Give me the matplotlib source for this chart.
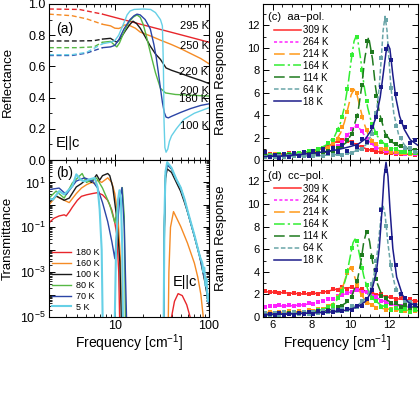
import math
import matplotlib
matplotlib.use("Agg")
import matplotlib.pyplot as plt
from matplotlib.ticker import FixedLocator, NullFormatter, MultipleLocator, FuncFormatter, LogLocator

plt.rcParams['font.family'] = ['Liberation Sans', 'DejaVu Sans']
plt.rcParams['mathtext.fontset'] = 'custom'
plt.rcParams['mathtext.rm'] = 'Liberation Sans'
plt.rcParams['mathtext.default'] = 'regular'
plt.rcParams['axes.linewidth'] = 0.8


### (a) REFLECTANCE, E||c  -- dashed = extrapolated low-frequency part
r295_dash_f = [2.0, 4.2, 7.4]
r295_dash = [0.968, 0.965, 0.935]
r295_f = [7.4, 10, 20, 50, 100]
r295 = [0.935, 0.914, 0.866, 0.803, 0.755]

r250_dash_f = [2.0, 3.5, 5.0, 7.4]
r250_dash = [0.935, 0.925, 0.905, 0.87]
r250_f = [7.4, 9, 10, 11, 11.8, 12.5, 14, 16.5, 18.6, 24, 30, 40, 50, 65, 82, 100]
r250 = [0.87, 0.86, 0.845, 0.843, 0.85, 0.865, 0.865, 0.845, 0.82, 0.795, 0.77, 0.74, 0.714, 0.68, 0.65, 0.617]

r220_dash_f = [2.0, 4.0, 6.0, 7.4]
r220_dash = [0.763, 0.763, 0.765, 0.775]
r220_f = [7.4, 9.0, 9.8, 10.5, 11.5, 13, 14.5, 15.6, 17, 18.6, 21, 23.8, 27, 30.5, 35, 40, 50, 65, 82, 100]
r220 = [0.775, 0.78, 0.765, 0.755, 0.78, 0.83, 0.87, 0.89, 0.875, 0.845, 0.79, 0.73, 0.68, 0.645, 0.59, 0.575, 0.555, 0.53, 0.51, 0.49]

r200_dash_f = [2.0, 4.0, 6.0, 7.4]
r200_dash = [0.72, 0.72, 0.725, 0.755]
r200_f = [7.4, 9.0, 9.8, 10.5, 11.2, 12.5, 14, 15.6, 17.2, 18.6, 20, 21.5, 23.8, 27, 30.5, 34.5, 44, 64, 100]
r200 = [0.755, 0.76, 0.74, 0.725, 0.75, 0.82, 0.88, 0.915, 0.93, 0.915, 0.87, 0.80, 0.69, 0.56, 0.46, 0.43, 0.42, 0.415, 0.41]

r180_dash_f = [2.0, 3.5, 5.0, 7.4]
r180_dash = [0.67, 0.67, 0.685, 0.72]
r180_f = [7.4, 9.0, 10, 11, 12.5, 14.5, 16, 17.2, 18.6, 21, 23.8, 26, 27.5, 29, 30.5, 32, 33.5, 35, 37, 40, 50, 64, 82, 100]
r180 = [0.72, 0.725, 0.735, 0.77, 0.84, 0.9, 0.925, 0.935, 0.93, 0.9, 0.84, 0.74, 0.66, 0.56, 0.46, 0.37, 0.305, 0.275, 0.27, 0.28, 0.305, 0.33, 0.35, 0.36]

r100_dash_f = [2.0, 3.5, 5.0, 7.4]
r100_dash = [0.675, 0.675, 0.69, 0.745]
r100_f = [7.4, 9.0, 10, 11, 12.5, 13.5, 14.5, 16, 20, 24, 27, 30.5, 32, 32.8, 33.3, 34, 35, 36.5, 38, 40, 45, 54, 70, 100]
r100 = [0.745, 0.755, 0.765, 0.80, 0.88, 0.93, 0.955, 0.965, 0.968, 0.965, 0.945, 0.90, 0.86, 0.6, 0.25, 0.08, 0.05, 0.07, 0.12, 0.155, 0.2, 0.26, 0.3, 0.335]

refl_labels = ['295 K', '250 K', '220 K', '200 K', '180 K', '100 K']
refl_label_y = [0.858, 0.729, 0.561, 0.445, 0.39, 0.219]


### (b) TRANSMITTANCE, E||c
t180_f = [2.0, 2.25, 2.56, 2.9, 3.05, 3.3, 3.54, 4.0, 4.42, 5.0, 5.8, 6.56, 7.4, 8.4, 9.28, 10.0, 10.5, 11.0, 11.3,
          38.5, 40, 43, 47, 52, 58, 64, 67]
t180 = [0.158, 0.25, 0.32, 0.36, 0.32, 0.5, 0.79, 1.6, 2.4, 2.8, 3.2, 3.5, 2.8, 1.6, 0.6, 0.16, 0.046, 1e-3, 3e-6,
        1e-7, 1e-5, 5e-5, 1.1e-4, 9e-5, 3.5e-5, 8e-6, 1e-7]

t160_f = [2.0, 2.38, 2.9, 3.28, 3.9, 4.42, 5.0, 5.66, 6.09, 6.56, 7.25, 8.41, 9.28, 10.0, 10.8, 11.5, 12.0,
          36.5, 37.5, 39, 42, 50, 59, 70, 76, 82, 88, 90]
t160 = [1.0, 2.4, 1.6, 1.26, 3.2, 5.6, 7.9, 10, 8.9, 12.6, 10, 16, 10, 3.2, 0.3, 3e-3, 3e-6,
        1e-7, 1e-3, 0.1, 0.5, 0.11, 0.02, 2.5e-3, 6e-4, 1e-4, 6e-6, 1e-7]

t100_f = [2.0, 2.38, 2.9, 3.28, 3.9, 4.42, 5.0, 5.66, 6.4, 6.9, 7.4, 8.4, 8.84, 9.5, 10.5, 11.3, 11.9,
          32.8, 33.6, 34.5, 36, 40, 45, 50, 55, 60, 70, 80, 90, 100]
t100 = [1.26, 2.5, 1.6, 2.0, 6.3, 8.9, 13.8, 10, 22, 12.6, 20, 25, 20, 6.3, 0.25, 3e-3, 1e-6,
        1e-7, 0.1, 15, 40, 28, 10, 4, 1.26, 0.4, 0.04, 4.5e-3, 4e-4, 3.2e-5]

t80_f = [2.0, 2.38, 2.9, 3.54, 4.5, 5.0, 5.66, 6.4, 7.4, 8.84, 10.0, 11.0, 12.0, 12.6, 13.0,
         32.8, 33.6, 34.5, 36, 40, 45, 50, 55, 60, 70, 80, 90, 100]
t80 = [2.0, 4.1, 2.0, 9.5, 25, 10, 12.6, 15.8, 5.6, 1.0, 0.16, 1.6, 5.9, 0.3, 2e-6,
       1e-7, 0.1, 20, 63, 40, 13, 5.6, 1.6, 0.4, 0.04, 5e-3, 5e-4, 4e-5]

t70_f = [2.0, 2.56, 3.05, 3.9, 4.76, 5.8, 6.56, 7.4, 8.4, 9.3, 10.0, 10.6, 11.3, 11.9, 12.6, 13.4,
         32.8, 33.6, 34.5, 36, 40, 45, 50, 55, 60, 70, 80, 90, 100]
t70 = [4.8, 5.6, 2.9, 11.5, 16, 11.5, 5.6, 1.26, 0.18, 0.023, 4e-3, 0.1, 2.0, 5.9, 0.1, 3e-6,
       1e-7, 0.1, 20, 60, 40, 13, 5.6, 1.6, 0.4, 0.04, 5e-3, 5e-4, 4e-5]

t5_f = [2.0, 2.2, 2.56, 2.9, 3.54, 3.9, 4.4, 4.76, 5.4, 6.1, 6.56, 6.9, 7.25, 7.45, 7.6,
        9.8, 10.3, 10.8, 11.2, 11.6, 12.0, 12.3,
        32.8, 33.6, 34.5, 36, 40, 45, 50, 55, 60, 70, 80, 85, 87, 89, 92, 94, 97, 100]
t5 = [2.0, 1.7, 4.1, 2.9, 6.8, 23, 12.6, 11.2, 13.8, 15.8, 6.3, 0.63, 0.01, 3e-6, 1e-7,
      1e-7, 0.01, 1.6, 4.5, 2.0, 0.01, 1e-7,
      1e-7, 0.2, 30, 80, 45, 14, 6, 1.8, 0.45, 0.045, 5e-3, 2.5e-3, 1e-3, 1.6e-3, 2.5e-4, 5e-4, 5e-5, 1e-4]

trans_labels = ['180 K', '160 K', '100 K', '80 K', '70 K', '5 K']


### (c),(d) RAMAN RESPONSE -- dots = data, lines = fits
raman_labels = ['309 K', '264 K', '214 K', '164 K', '114 K', '64 K', '18 K']
dot_x = [5.6, 5.85, 6.1, 6.35, 6.6, 6.85, 7.1, 7.35, 7.6, 7.85, 8.1, 8.35, 8.6, 8.85, 9.1, 9.35,
         9.6, 9.85, 10.1, 10.35, 10.6, 10.85, 11.1, 11.35, 11.6, 11.85, 12.1, 12.35, 12.6, 12.85, 13.1, 13.35]

# aa-pol.
aa309_x = [5.5, 6, 6.5, 7, 7.5, 8, 8.5, 9, 9.3, 9.65, 10, 10.3, 10.6, 11, 11.5, 12, 12.5, 13, 13.5]
aa309_y = [0.48, 0.50, 0.53, 0.57, 0.65, 0.78, 1.00, 1.38, 1.65, 1.80, 1.65, 1.38, 1.14, 0.90, 0.72, 0.61, 0.55, 0.51, 0.49]
aa309_p = [0.45, 0.52, 0.47, 0.55, 0.5, 0.58, 0.56, 0.64, 0.66, 0.76, 0.79, 0.95, 1.04, 1.28, 1.45, 1.72,
           1.76, 1.70, 1.60, 1.31, 1.18, 0.93, 0.88, 0.73, 0.71, 0.62, 0.61, 0.55, 0.56, 0.50, 0.53, 0.48]

aa264_x = [5.5, 6.5, 7.5, 8.5, 9, 9.4, 9.7, 9.9, 10.1, 10.3, 10.5, 10.7, 10.9, 11.2, 11.6, 12, 12.5, 13, 13.5]
aa264_y = [0.45, 0.47, 0.53, 0.70, 0.92, 1.29, 1.80, 2.29, 2.77, 3.00, 2.77, 2.29, 1.80, 1.29, 0.92, 0.73, 0.61, 0.54, 0.50]
aa264_p = [0.42, 0.48, 0.44, 0.5, 0.46, 0.52, 0.49, 0.55, 0.52, 0.6, 0.58, 0.7, 0.71, 0.88, 0.97, 1.28,
           1.58, 2.25, 2.72, 3.05, 2.6, 1.85, 1.48, 1.08, 0.95, 0.76, 0.72, 0.61, 0.62, 0.53, 0.56, 0.5]

aa214_x = [5.5, 6.5, 7.5, 8.3, 8.8, 9.2, 9.5, 9.7, 9.9, 10.05, 10.2, 10.35, 10.5, 10.7, 10.9, 11.2, 11.6, 12.1, 12.6, 13.0, 13.5]
aa214_y = [0.46, 0.51, 0.59, 0.78, 1.07, 1.58, 2.39, 3.35, 4.74, 5.81, 6.30, 5.81, 4.74, 3.35, 2.39, 1.58, 1.07, 0.78, 0.65, 0.58, 0.53]
aa214_p = [0.5, 0.44, 0.53, 0.47, 0.55, 0.5, 0.6, 0.56, 0.66, 0.62, 0.77, 0.78, 0.98, 1.08, 1.5, 1.88,
           2.95, 4.3, 6.2, 6.0, 3.85, 2.7, 1.7, 1.4, 1.0, 0.95, 0.72, 0.74, 0.6, 0.64, 0.52, 0.58]

aa164_x = [5.5, 6.5, 7.5, 8.3, 8.8, 9.2, 9.5, 9.7, 9.9, 10.05, 10.2, 10.3, 10.4, 10.55, 10.7, 10.9, 11.1, 11.4, 11.8, 12.3, 12.8, 13.5]
aa164_y = [0.41, 0.48, 0.63, 0.93, 1.37, 2.13, 3.31, 4.69, 6.83, 8.86, 10.59, 11.0, 10.59, 8.86, 6.83, 4.69, 3.31, 2.13, 1.37, 0.93, 0.71, 0.56]
aa164_p = [0.38, 0.46, 0.41, 0.5, 0.45, 0.55, 0.52, 0.64, 0.6, 0.78, 0.78, 1.02, 1.1, 1.5, 1.8, 2.7,
           3.85, 6.3, 9.4, 11.0, 8.0, 5.3, 3.2, 2.4, 1.6, 1.38, 1.0, 0.95, 0.72, 0.75, 0.6, 0.62]

aa114_x = [5.5, 6.5, 7.5, 8.3, 8.9, 9.4, 9.8, 10.1, 10.4, 10.6, 10.75, 10.95, 11.15, 11.3, 11.5, 11.8, 12.1, 12.5, 13.0, 13.5]
aa114_y = [0.36, 0.39, 0.46, 0.56, 0.73, 1.03, 1.56, 2.40, 4.24, 6.61, 9.02, 11.0, 9.02, 6.61, 4.24, 2.40, 1.65, 1.25, 1.0, 0.85]
aa114_p = [0.32, 0.4, 0.35, 0.42, 0.38, 0.45, 0.41, 0.48, 0.45, 0.52, 0.5, 0.62, 0.6, 0.78, 0.8, 1.05,
           1.2, 1.75, 2.3, 3.9, 6.7, 10.6, 9.6, 5.7, 3.6, 2.1, 1.7, 1.4, 1.25, 1.05, 1.0, 0.85]

aa64_x = [5.5, 6.5, 7.5, 8.5, 9.3, 9.9, 10.4, 10.8, 11.1, 11.35, 11.5, 11.6, 11.7, 11.8, 11.9, 12.0, 12.1, 12.25, 12.5, 12.8, 13.1, 13.5]
aa64_y = [0.33, 0.34, 0.36, 0.40, 0.48, 0.60, 0.85, 1.33, 2.24, 4.15, 6.55, 8.95, 11.55, 12.8, 11.55, 8.95, 6.55, 4.15, 2.24, 1.33, 0.93, 0.68]
aa64_p = [0.3, 0.36, 0.27, 0.38, 0.3, 0.4, 0.32, 0.42, 0.33, 0.44, 0.35, 0.45, 0.38, 0.5, 0.42, 0.55,
          0.45, 0.62, 0.6, 0.85, 1.0, 1.5, 2.3, 4.2, 9.1, 12.5, 6.4, 3.0, 2.0, 1.1, 1.1, 0.7]

aa18_x = [5.5, 6.5, 7.5, 8.5, 9.3, 9.9, 10.4, 10.8, 11.1, 11.35, 11.55, 11.7, 11.85, 11.95, 12.05, 12.2, 12.35, 12.55, 12.8, 13.1, 13.5]
aa18_y = [0.30, 0.35, 0.50, 0.70, 0.90, 1.15, 1.40, 1.90, 2.70, 3.90, 5.60, 7.60, 9.60, 10.3, 9.9, 7.6, 5.6, 3.9, 2.7, 1.8, 1.3]
aa18_p = [0.7, 0.25, 0.45, 0.2, 0.5, 0.3, 0.6, 0.35, 0.75, 0.4, 0.8, 0.5, 1.0, 0.6, 1.1, 0.7,
          1.3, 0.8, 1.5, 1.2, 1.9, 1.6, 2.9, 3.8, 6.5, 9.9, 8.9, 5.9, 3.4, 2.9, 1.5, 1.8]

# cc-pol.
cc309_x = [5.5, 6, 6.5, 7, 7.5, 8, 8.5, 9, 9.5, 10, 10.5, 11, 11.5, 12, 12.5, 13, 13.5]
cc309_y = [2.25, 2.2, 2.15, 2.1, 2.05, 2.05, 2.15, 2.35, 2.55, 2.6, 2.45, 2.2, 1.95, 1.75, 1.6, 1.5, 1.4]
cc309_p = [2.3, 2.18, 2.25, 2.12, 2.2, 2.08, 2.15, 2.03, 2.1, 2.0, 2.12, 2.05, 2.25, 2.2, 2.45, 2.4,
           2.65, 2.5, 2.7, 2.45, 2.48, 2.2, 2.25, 1.95, 2.0, 1.75, 1.8, 1.6, 1.68, 1.48, 1.55, 1.4]

cc264_x = [5.5, 6, 6.5, 7, 7.5, 8, 8.5, 9, 9.5, 10, 10.4, 10.8, 11.2, 11.6, 12, 12.5, 13, 13.5]
cc264_y = [0.95, 0.97, 0.98, 1.0, 1.07, 1.18, 1.35, 1.6, 1.9, 2.2, 2.35, 2.2, 1.85, 1.5, 1.2, 1.0, 0.85, 0.75]
cc264_p = [0.9, 1.0, 0.95, 1.02, 0.96, 1.03, 0.98, 1.08, 1.05, 1.2, 1.18, 1.35, 1.38, 1.58, 1.62, 1.85,
           1.92, 2.15, 2.2, 2.4, 2.25, 2.2, 1.9, 1.78, 1.45, 1.35, 1.12, 1.1, 0.95, 0.93, 0.8, 0.8]

cc214_x = [5.5, 6.5, 7.5, 8.3, 8.8, 9.2, 9.45, 9.65, 9.85, 10.0, 10.15, 10.35, 10.55, 10.8, 11.2, 11.7, 12.3, 13.0, 13.5]
cc214_y = [0.39, 0.41, 0.48, 0.61, 0.84, 1.31, 1.96, 2.84, 3.95, 4.40, 4.0, 2.91, 2.04, 1.41, 0.96, 0.74, 0.65, 0.59, 0.56]
cc214_p = [0.3, 0.45, 0.35, 0.48, 0.38, 0.5, 0.4, 0.52, 0.45, 0.58, 0.5, 0.7, 0.7, 0.95, 1.1, 1.75,
           2.5, 3.9, 4.3, 2.8, 1.95, 1.25, 1.1, 0.8, 0.85, 0.65, 0.72, 0.58, 0.68, 0.55, 0.62, 0.52]

cc164_x = [5.5, 6.5, 7.5, 8.3, 8.9, 9.3, 9.6, 9.8, 10.0, 10.15, 10.25, 10.35, 10.5, 10.7, 10.9, 11.2, 11.6, 12.1, 12.7, 13.5]
cc164_y = [0.21, 0.24, 0.34, 0.53, 0.88, 1.46, 2.42, 3.58, 5.34, 6.59, 6.9, 6.6, 5.35, 3.62, 2.48, 1.56, 1.04, 0.77, 0.65, 0.57]
cc164_p = [0.05, 0.2, 0.1, 0.28, 0.12, 0.3, 0.15, 0.35, 0.25, 0.45, 0.35, 0.6, 0.58, 0.9, 1.0, 1.65,
           2.3, 4.1, 6.1, 6.7, 4.3, 2.8, 1.65, 1.4, 0.9, 0.95, 0.62, 0.8, 0.5, 0.7, 0.45, 0.65]

cc114_x = [5.5, 6.5, 7.5, 8.3, 8.9, 9.4, 9.8, 10.1, 10.35, 10.55, 10.7, 10.85, 11.0, 11.15, 11.35, 11.6, 11.9, 12.3, 12.8, 13.5]
cc114_y = [0.19, 0.25, 0.34, 0.45, 0.61, 0.85, 1.27, 1.95, 3.07, 4.84, 6.65, 7.6, 6.7, 4.94, 3.19, 2.1, 1.49, 1.15, 0.96, 0.84]
cc114_p = [0.15, 0.28, 0.18, 0.3, 0.2, 0.32, 0.25, 0.38, 0.3, 0.45, 0.35, 0.52, 0.45, 0.65, 0.62, 0.9,
           0.95, 1.45, 1.8, 3.2, 5.5, 7.5, 5.3, 3.4, 1.9, 1.7, 1.2, 1.25, 0.9, 1.05, 0.82, 0.95]

cc64_x = [5.5, 6.5, 7.5, 8.5, 9.3, 9.9, 10.4, 10.8, 11.1, 11.3, 11.45, 11.6, 11.7, 11.8, 11.95, 12.1, 12.3, 12.6, 12.9, 13.2, 13.5]
cc64_y = [0.28, 0.32, 0.36, 0.45, 0.57, 0.75, 1.05, 1.63, 2.72, 4.31, 6.46, 9.03, 9.8, 9.08, 6.51, 4.41, 2.87, 1.83, 1.44, 1.22, 1.1]
cc64_p = [0.35, 0.2, 0.38, 0.22, 0.4, 0.25, 0.42, 0.28, 0.45, 0.3, 0.48, 0.35, 0.52, 0.4, 0.6, 0.5,
          0.72, 0.6, 0.95, 0.9, 1.4, 1.6, 2.9, 5.0, 9.6, 8.1, 4.6, 2.4, 2.0, 1.4, 1.35, 1.05]

cc18_x = [5.5, 6.5, 7.5, 8.5, 9.3, 9.9, 10.4, 10.8, 11.1, 11.35, 11.5, 11.65, 11.75, 11.85, 11.95, 12.05, 12.2, 12.4, 12.7, 13.0, 13.5]
cc18_y = [0.23, 0.26, 0.31, 0.39, 0.48, 0.63, 0.90, 1.39, 2.25, 3.95, 6.07, 9.67, 12.46, 13.7, 12.46, 9.67, 6.07, 3.53, 1.94, 1.30, 0.88]
cc18_p = [0.1, 0.3, 0.15, 0.35, 0.2, 0.28, 0.1, 0.35, 0.3, 0.45, 0.25, 0.5, 0.35, 0.55, 0.4, 0.6,
          0.5, 0.75, 0.6, 1.0, 0.95, 1.6, 2.4, 4.2, 9.5, 12.9, 7.0, 4.6, 2.0, 1.7, 1.0, 1.1]


# styles
LEFT_COLORS = ['#e8262b', '#f58b25', '#1a1a1a', '#56b845', '#2b45a6', '#66d0e6']
RAMAN_COLORS = ['#ff2a2a', '#ff22ff', '#ff9a1a', '#33ee33', '#1f7a1f', '#6aa5a8', '#1c1c8a']
RAMAN_LS = ['-', (0, (2, 1.5)), (0, (7, 3)), (0, (7, 2, 1.5, 2)), (0, (7, 3)), (0, (3, 1.5)), '-']
DASH = (0, (3.5, 2))


def style(ax, fs):
    ax.tick_params(which='both', direction='in', top=True, right=True, labelsize=fs, pad=2.5)
    ax.tick_params(which='major', length=4, width=0.7)
    ax.tick_params(which='minor', length=2, width=0.6)


def odd_exp(v, p):
    e = int(round(math.log10(v)))
    return r'$10^{%d}$' % e if e % 2 else ''


fig = plt.figure(figsize=(4.2, 3.95), dpi=100)
ax_a = fig.add_axes([49/420, 235/395, 160/420, 156/395])
ax_b = fig.add_axes([49/420, 78/395, 160/420, 157/395])
ax_c = fig.add_axes([263/420, 235/395, 155/420, 156/395])
ax_d = fig.add_axes([263/420, 78/395, 155/420, 157/395])


### panel (a)
refl = [(r295_dash_f, r295_dash, r295_f, r295), (r250_dash_f, r250_dash, r250_f, r250),
        (r220_dash_f, r220_dash, r220_f, r220), (r200_dash_f, r200_dash, r200_f, r200),
        (r180_dash_f, r180_dash, r180_f, r180), (r100_dash_f, r100_dash, r100_f, r100)]
for (df, dv, sf, sv), c in zip(refl, LEFT_COLORS):
    ax_a.plot(df, dv, color=c, lw=1.0, ls=DASH)
    ax_a.plot(sf, sv, color=c, lw=1.0)
for lab, y in zip(refl_labels, refl_label_y):
    ax_a.text(99, y, lab, ha='right', va='center', fontsize=8)
ax_a.text(0.045, 0.84, '(a)', transform=ax_a.transAxes, fontsize=10, va='center')
ax_a.text(0.045, 0.11, 'E||c', transform=ax_a.transAxes, fontsize=10.5, va='center')

ax_a.set_xscale('log')
ax_a.set_xlim(2, 100)
ax_a.set_ylim(0, 1.0)
ax_a.xaxis.set_major_locator(FixedLocator([10, 100]))
ax_a.xaxis.set_minor_locator(LogLocator(subs=range(2, 10), numticks=10))
ax_a.xaxis.set_major_formatter(NullFormatter())
ax_a.xaxis.set_minor_formatter(NullFormatter())
ax_a.yaxis.set_major_locator(MultipleLocator(0.2))
ax_a.yaxis.set_minor_locator(MultipleLocator(0.1))
ax_a.yaxis.set_major_formatter(FuncFormatter(lambda v, p: '%.1f' % v))
ax_a.set_ylabel('Reflectance', fontsize=9.5)
ax_a.yaxis.set_label_coords(-0.22, 0.5)
style(ax_a, 9)


### panel (b)
trans = [(t180_f, t180), (t160_f, t160), (t100_f, t100), (t80_f, t80), (t70_f, t70), (t5_f, t5)]
for (f, t), c, lab in zip(trans, LEFT_COLORS, trans_labels):
    lw = 1.5 if lab == '5 K' else 1.0
    ax_b.plot(f, t, color=c, lw=lw, label=lab)
ax_b.set_xscale('log')
ax_b.set_yscale('log')
ax_b.set_xlim(2, 100)
ax_b.set_ylim(1e-5, 1e2)
ax_b.xaxis.set_major_locator(FixedLocator([10, 100]))
ax_b.xaxis.set_minor_locator(LogLocator(subs=range(2, 10), numticks=10))
ax_b.xaxis.set_major_formatter(FuncFormatter(lambda v, p: '%d' % round(v)))
ax_b.xaxis.set_minor_formatter(NullFormatter())
ax_b.yaxis.set_major_locator(FixedLocator([1e-5, 1e-4, 1e-3, 1e-2, 1e-1, 1, 10, 100]))
ax_b.yaxis.set_minor_locator(LogLocator(subs=range(2, 10), numticks=20))
ax_b.yaxis.set_minor_formatter(NullFormatter())
ax_b.yaxis.set_major_formatter(FuncFormatter(odd_exp))
ax_b.text(0.045, 0.92, '(b)', transform=ax_b.transAxes, fontsize=10, va='center')
ax_b.text(0.85, 0.22, 'E||c', transform=ax_b.transAxes, fontsize=10.5, va='center', ha='center')
ax_b.legend(loc='lower left', bbox_to_anchor=(0.02, 0.035), frameon=False, fontsize=6.5,
            handlelength=2.1, handletextpad=0.5, labelspacing=0.2, borderpad=0, borderaxespad=0)
ax_b.set_ylabel('Transmittance', fontsize=9.5)
ax_b.yaxis.set_label_coords(-0.22, 0.5)
ax_b.set_xlabel('Frequency [cm$^{-1}$]', fontsize=10)
ax_b.xaxis.set_label_coords(0.5, -0.1)
style(ax_b, 9)


### panels (c), (d)
aa = [(aa309_x, aa309_y, aa309_p), (aa264_x, aa264_y, aa264_p), (aa214_x, aa214_y, aa214_p),
      (aa164_x, aa164_y, aa164_p), (aa114_x, aa114_y, aa114_p), (aa64_x, aa64_y, aa64_p), (aa18_x, aa18_y, aa18_p)]
cc = [(cc309_x, cc309_y, cc309_p), (cc264_x, cc264_y, cc264_p), (cc214_x, cc214_y, cc214_p),
      (cc164_x, cc164_y, cc164_p), (cc114_x, cc114_y, cc114_p), (cc64_x, cc64_y, cc64_p), (cc18_x, cc18_y, cc18_p)]

for ax, series, title, ty in [(ax_c, aa, '(c)  aa\u2212pol.', 0.915), (ax_d, cc, '(d)  cc\u2212pol.', 0.9)]:
    for (lx, ly, pts), c, ls, lab in zip(series, RAMAN_COLORS, RAMAN_LS, raman_labels):
        ax.plot(dot_x, pts, ls='none', marker='s', ms=2.4, mew=0, color=c)
        ax.plot(lx, ly, color=c, ls=ls, lw=1.1, label=lab)
    ax.set_xlim(5.5, 13.5)
    ax.set_ylim(0, 13.9)
    ax.xaxis.set_major_locator(MultipleLocator(2))
    ax.xaxis.set_minor_locator(MultipleLocator(0.5))
    ax.yaxis.set_major_locator(MultipleLocator(2))
    ax.yaxis.set_minor_locator(MultipleLocator(1))
    ax.text(0.03, ty, title, transform=ax.transAxes, fontsize=8, va='center')
    ax.legend(loc='upper left', bbox_to_anchor=(0.07, ty - 0.05), frameon=False, fontsize=7,
              handlelength=2.8, handletextpad=0.2, labelspacing=0.2, borderpad=0, borderaxespad=0)
    ax.set_ylabel('Raman Response', fontsize=9.5)
    ax.yaxis.set_label_coords(-0.235, 0.5)
    style(ax, 8)

ax_c.xaxis.set_major_formatter(NullFormatter())
ax_d.set_xlabel('Frequency [cm$^{-1}$]', fontsize=10)
ax_d.xaxis.set_label_coords(0.48, -0.1)

fig.savefig('out.png', dpi=100)
